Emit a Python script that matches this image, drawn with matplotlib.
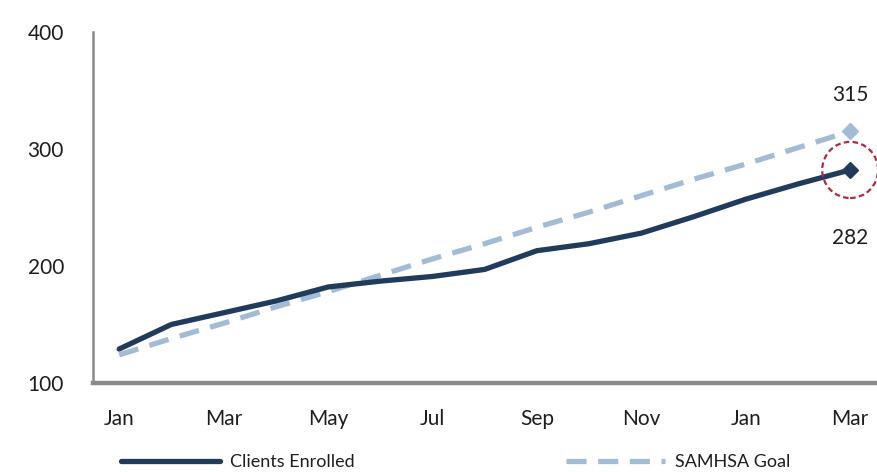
import matplotlib
matplotlib.use("Agg")
import matplotlib.pyplot as plt
from matplotlib.patches import Ellipse

plt.rcParams["font.family"] = ["Lato", "DejaVu Sans"]

# Monthly enrollment, Jan through March of the following year
months = ["Jan", "Feb", "Mar", "Apr", "May", "Jun", "Jul", "Aug",
          "Sep", "Oct", "Nov", "Dec", "Jan", "Feb", "Mar"]
clients_enrolled = [129, 150, 160, 170, 182, 187, 191, 197,
                    213, 219, 228, 242, 257, 270, 282]
samhsa_goal = [124, 138, 151, 165, 178, 192, 206, 219,
               233, 246, 260, 274, 287, 301, 315]
tick_months = ["Jan", "Mar", "May", "Jul", "Sep", "Nov", "Jan", "Mar"]
y_ticks = [100, 200, 300, 400]

navy = "#203b5c"
light = "#a3bbd5"
axis_grey = "#8a8a8a"
text_color = "#1e1e1e"

fig = plt.figure(figsize=(8.78, 4.72), dpi=100)
ax = fig.add_axes([0.106, 0.1886, 0.892, 0.744])

x = list(range(len(months)))
ax.plot(x, clients_enrolled, color=navy, lw=3.8, solid_capstyle="round",
        solid_joinstyle="round", label="Clients Enrolled", zorder=3)
ax.plot(x, samhsa_goal, color=light, lw=3.8, linestyle=(0, (3.8, 2.2)),
        label="SAMHSA Goal", zorder=2)

last = len(months) - 1
ax.plot(last, samhsa_goal[-1], marker="D", ms=8, color=light, zorder=4,
        clip_on=False)
ax.plot(last, clients_enrolled[-1], marker="D", ms=8, color=navy, zorder=5,
        clip_on=False)

# Highlight the latest enrollment figure
ax.add_patch(Ellipse((last, clients_enrolled[-1]), width=1.07, height=48,
                     fill=False, edgecolor="#b52a3a", lw=1.6,
                     linestyle=(0, (2.5, 1.5)), clip_on=False, zorder=6))

ax.annotate(f"{samhsa_goal[-1]}", (last, samhsa_goal[-1]),
            xytext=(0, 26), textcoords="offset points", ha="center",
            va="center", fontsize=15, color=text_color)
ax.annotate(f"{clients_enrolled[-1]}", (last, clients_enrolled[-1]),
            xytext=(0, -49), textcoords="offset points", ha="center",
            va="center", fontsize=15, color=text_color)

ax.set_xlim(-0.5, len(months) - 0.5)
ax.set_ylim(100, 400)
ax.set_yticks(y_ticks)
ax.set_xticks(range(0, len(months), 2))
ax.set_xticklabels(tick_months)
ax.tick_params(axis="both", length=0, labelsize=15, colors=text_color)
ax.tick_params(axis="y", pad=21)
ax.tick_params(axis="x", pad=19)

for side in ("top", "right"):
    ax.spines[side].set_visible(False)
ax.spines["left"].set_color(axis_grey)
ax.spines["left"].set_linewidth(1.8)
ax.spines["bottom"].set_color(axis_grey)
ax.spines["bottom"].set_linewidth(3.2)

fig.legend(loc="lower center", bbox_to_anchor=(0.519, -0.03), ncol=2,
           frameon=False, fontsize=13, handlelength=5.5, handletextpad=0.55,
           columnspacing=11.7, labelcolor=text_color)

fig.savefig("out.png", dpi=100)
